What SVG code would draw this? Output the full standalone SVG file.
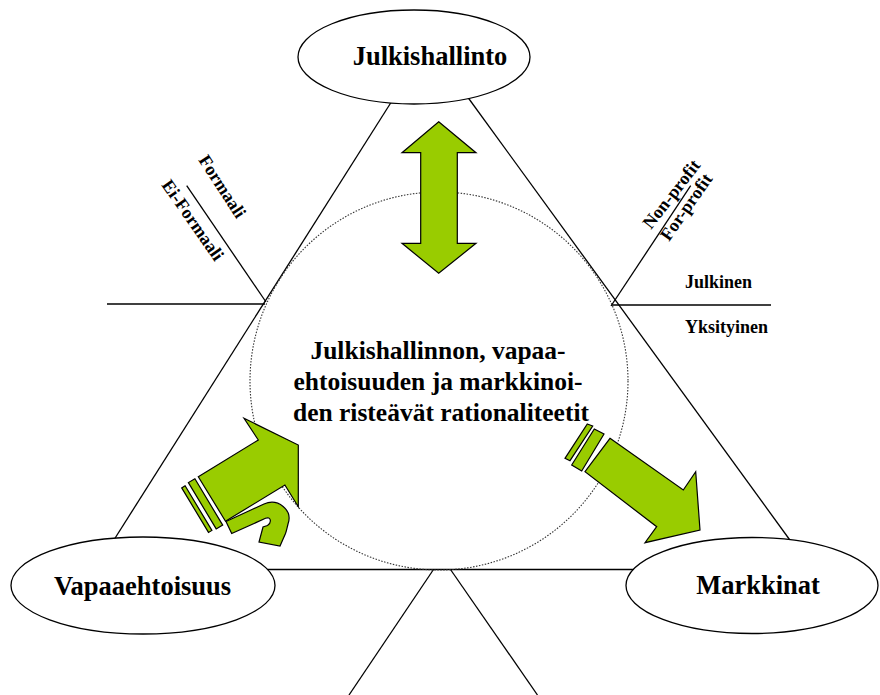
<svg xmlns="http://www.w3.org/2000/svg" width="880" height="695" viewBox="0 0 880 695">
<style>
.ln{stroke:#000;stroke-width:1.3;fill:none}
.ell{fill:#fff;stroke:#000;stroke-width:1.3}
.dot{fill:none;stroke:#333;stroke-width:1.1;stroke-dasharray:1.5 1.5}
.arr{fill:#99CC00;stroke:#000;stroke-width:1.2;stroke-linejoin:miter}
.t{font-family:"Liberation Serif","Times New Roman",serif;font-weight:bold;fill:#000}
.big{font-size:26.5px}
.mid{font-size:25.5px}
.sm{font-size:18px}
</style>
<rect width="880" height="695" fill="#fff"/>
<g id="connectors">
<line class="ln" x1="395.1" y1="96" x2="110.7" y2="545"/>
<line class="ln" x1="466.9" y1="96" x2="793.5" y2="545"/>
<line class="ln" x1="260" y1="569.5" x2="640" y2="569.5"/>
<line class="ln" x1="433.5" y1="569.5" x2="349" y2="695"/>
<line class="ln" x1="450.5" y1="569.5" x2="537.5" y2="695"/>
<line class="ln" x1="107" y1="304" x2="265" y2="304"/>
<line class="ln" x1="186.7" y1="185.7" x2="266" y2="302"/>
<line class="ln" x1="611" y1="305" x2="771" y2="305"/>
<line class="ln" x1="611" y1="306" x2="690.7" y2="185.7"/>
</g>
<g id="n-center">
<circle class="dot" cx="439" cy="381" r="189"/>
<text class="t mid" text-anchor="middle" x="438" y="359">Julkishallinnon, vapaa-</text>
<text class="t mid" text-anchor="middle" x="438" y="390">ehtoisuuden ja markkinoi-</text>
<text class="t mid" text-anchor="middle" x="441" y="421">den risteävät rationaliteetit</text>
</g>
<g id="n-julkishallinto">
<ellipse class="ell" cx="414" cy="57" rx="116" ry="47"/>
<text class="t big" text-anchor="middle" x="430" y="65">Julkishallinto</text>
</g>
<g id="n-vapaaehtoisuus">
<ellipse class="ell" cx="143" cy="585.5" rx="132" ry="48.5"/>
<text class="t big" text-anchor="middle" x="142.5" y="595">Vapaaehtoisuus</text>
</g>
<g id="n-markkinat">
<ellipse class="ell" cx="752" cy="585.5" rx="126" ry="48"/>
<text class="t big" text-anchor="middle" x="758" y="594">Markkinat</text>
</g>
<g id="arrows">
<polygon class="arr" points="438.7,121.7 476,152.7 457.3,152.7 457.3,243.3 476,243.3 438.7,273.3 402,243.3 420.7,243.3 420.7,152.7 402,152.7"/>
<polygon class="arr" points="198.3,476.7 258.3,440 244,418.3 298.3,445 298.3,506.7 284.9,485 225.5,521.2"/>
<polygon class="arr" points="194.9,478.8 188.4,482.6 216.2,528.9 222.7,525.1"/>
<polygon class="arr" points="185.1,485.8 181.7,487.9 208.5,532.4 211.9,530.4"/>
<path class="arr" d="M226,521.5 L264,504 C278,498 293,510 288,524 C287,528 286.5,531 285.5,533.5 L280,546 L259,542 L263,527 L267.5,525.5 C272,522.5 271,516 265.5,518.3 L231.7,533.5 Z"/>
<polygon class="arr" points="610,438.3 683.3,490 695.7,471.7 700,530 645,542.7 656.7,526.7 585,471.7"/>
<polygon class="arr" points="594.3,429 604,434 581.7,471 571.7,465"/>
<polygon class="arr" points="587.3,424 592.7,426 570,460.7 565,458.3"/>
</g>
<g id="labels">
<text class="t sm" transform="translate(198,160) rotate(57)">Formaali</text>
<text class="t sm" transform="translate(161,185) rotate(55)">Ei-Formaali</text>
<text class="t sm" transform="translate(651,230) rotate(-52)">Non-profit</text>
<text class="t sm" transform="translate(669,242) rotate(-55)">For-profit</text>
<text class="t sm" x="685" y="288">Julkinen</text>
<text class="t sm" x="685" y="333">Yksityinen</text>
</g>
</svg>
